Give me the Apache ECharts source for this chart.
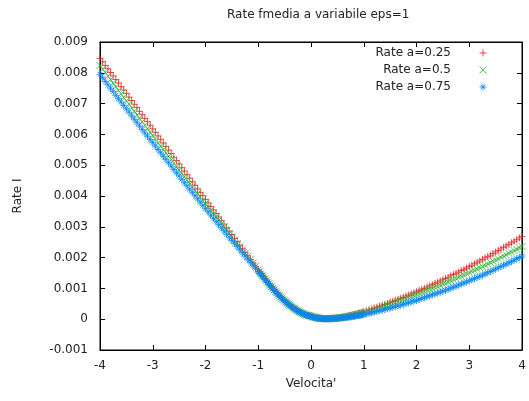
<!DOCTYPE html>
<html><head><meta charset="utf-8">
<script src="https://cdn.jsdelivr.net/npm/echarts@6/dist/echarts.min.js"></script>
<style>html,body{margin:0;padding:0;background:#fff}#c{width:529px;height:401px}</style>
</head><body><div id="c"></div><script>
// x values (Velocita')
const velocita = [
-4,-3.95,-3.9,-3.85,-3.8,-3.75,-3.7,-3.65,-3.6,-3.55,
-3.5,-3.45,-3.4,-3.35,-3.3,-3.25,-3.2,-3.15,-3.1,-3.05,
-3,-2.95,-2.9,-2.85,-2.8,-2.75,-2.7,-2.65,-2.6,-2.55,
-2.5,-2.45,-2.4,-2.35,-2.3,-2.25,-2.2,-2.15,-2.1,-2.05,
-2,-1.95,-1.9,-1.85,-1.8,-1.75,-1.7,-1.65,-1.6,-1.55,
-1.5,-1.45,-1.4,-1.35,-1.3,-1.25,-1.2,-1.15,-1.1,-1.05,
-1,-0.975,-0.95,-0.925,-0.9,-0.875,-0.85,-0.825,-0.8,-0.775,
-0.75,-0.725,-0.7,-0.675,-0.65,-0.625,-0.6,-0.575,-0.55,-0.525,
-0.5,-0.475,-0.45,-0.425,-0.4,-0.375,-0.35,-0.325,-0.3,-0.275,
-0.25,-0.225,-0.2,-0.175,-0.15,-0.125,-0.1,-0.075,-0.05,-0.025,
0,0.025,0.05,0.075,0.1,0.125,0.15,0.175,0.2,0.225,
0.25,0.275,0.3,0.325,0.35,0.375,0.4,0.425,0.45,0.475,
0.5,0.525,0.55,0.575,0.6,0.625,0.65,0.675,0.7,0.725,
0.75,0.775,0.8,0.825,0.85,0.875,0.9,0.925,0.95,0.975,
1,1.05,1.1,1.15,1.2,1.25,1.3,1.35,1.4,1.45,
1.5,1.55,1.6,1.65,1.7,1.75,1.8,1.85,1.9,1.95,
2,2.05,2.1,2.15,2.2,2.25,2.3,2.35,2.4,2.45,
2.5,2.55,2.6,2.65,2.7,2.75,2.8,2.85,2.9,2.95,
3,3.05,3.1,3.15,3.2,3.25,3.3,3.35,3.4,3.45,
3.5,3.55,3.6,3.65,3.7,3.75,3.8,3.85,3.9,3.95,
4];
// Rate a=0.25
const rateA025 = [
0.00847,0.00836,0.00824,0.00813,0.00801,0.00790,0.00778,0.00767,0.00755,0.00744,
0.00733,0.00721,0.00710,0.00698,0.00687,0.00675,0.00664,0.00652,0.00641,0.00630,
0.00618,0.00607,0.00595,0.00584,0.00572,0.00561,0.00549,0.00538,0.00526,0.00515,
0.00504,0.00492,0.00481,0.00469,0.00458,0.00446,0.00435,0.00423,0.00412,0.00401,
0.00389,0.00378,0.00366,0.00355,0.00343,0.00332,0.00320,0.00309,0.00297,0.00286,
0.00275,0.00263,0.00252,0.00240,0.00229,0.00217,0.00206,0.00194,0.00183,0.00172,
0.00160,0.00154,0.00149,0.00143,0.00138,0.00132,0.00127,0.00121,0.00116,0.00111,
0.00106,0.00101,0.00096,0.00091,0.00087,0.00082,0.00077,0.00073,0.00069,0.00064,
0.00060,0.00056,0.00053,0.00049,0.00046,0.00042,0.00039,0.00036,0.00033,0.00030,
0.00028,0.00025,0.00023,0.00020,0.00018,0.00016,0.00015,0.00013,0.00012,0.00011,
0.00010,0.00008,0.00007,0.00006,0.00005,0.00004,0.00004,0.00003,0.00003,0.00002,
0.00002,0.00002,0.00002,0.00002,0.00002,0.00002,0.00003,0.00003,0.00003,0.00003,
0.00004,0.00004,0.00005,0.00006,0.00007,0.00007,0.00008,0.00009,0.00010,0.00011,
0.00012,0.00013,0.00014,0.00015,0.00016,0.00017,0.00019,0.00020,0.00021,0.00022,
0.00024,0.00027,0.00030,0.00033,0.00036,0.00039,0.00042,0.00045,0.00048,0.00051,
0.00055,0.00058,0.00061,0.00065,0.00068,0.00071,0.00075,0.00078,0.00082,0.00086,
0.00089,0.00093,0.00097,0.00100,0.00104,0.00108,0.00112,0.00116,0.00120,0.00124,
0.00128,0.00132,0.00136,0.00141,0.00145,0.00149,0.00153,0.00158,0.00162,0.00166,
0.00171,0.00175,0.00180,0.00185,0.00189,0.00194,0.00199,0.00203,0.00208,0.00213,
0.00218,0.00223,0.00228,0.00233,0.00238,0.00243,0.00248,0.00253,0.00258,0.00264,
0.00269];
// Rate a=0.5
const rateA05 = [
0.00824,0.00812,0.00801,0.00789,0.00778,0.00766,0.00755,0.00743,0.00732,0.00720,
0.00709,0.00698,0.00686,0.00675,0.00663,0.00652,0.00641,0.00629,0.00618,0.00607,
0.00596,0.00585,0.00573,0.00562,0.00551,0.00540,0.00529,0.00518,0.00506,0.00495,
0.00484,0.00473,0.00462,0.00451,0.00440,0.00429,0.00418,0.00408,0.00397,0.00386,
0.00375,0.00364,0.00353,0.00342,0.00332,0.00321,0.00310,0.00299,0.00289,0.00278,
0.00267,0.00257,0.00246,0.00235,0.00225,0.00214,0.00204,0.00193,0.00182,0.00172,
0.00160,0.00154,0.00148,0.00142,0.00137,0.00131,0.00126,0.00120,0.00115,0.00110,
0.00105,0.00100,0.00095,0.00090,0.00086,0.00081,0.00077,0.00072,0.00068,0.00064,
0.00060,0.00056,0.00052,0.00048,0.00045,0.00042,0.00039,0.00036,0.00033,0.00030,
0.00027,0.00024,0.00022,0.00020,0.00018,0.00016,0.00014,0.00013,0.00012,0.00011,
0.00010,0.00008,0.00007,0.00006,0.00005,0.00004,0.00003,0.00002,0.00002,0.00002,
0.00002,0.00002,0.00002,0.00002,0.00002,0.00002,0.00003,0.00003,0.00003,0.00003,
0.00004,0.00004,0.00005,0.00005,0.00006,0.00006,0.00007,0.00008,0.00009,0.00009,
0.00010,0.00011,0.00012,0.00013,0.00014,0.00015,0.00016,0.00017,0.00018,0.00019,
0.00020,0.00023,0.00025,0.00028,0.00031,0.00034,0.00036,0.00039,0.00042,0.00045,
0.00048,0.00051,0.00054,0.00057,0.00060,0.00063,0.00066,0.00070,0.00073,0.00076,
0.00079,0.00083,0.00086,0.00089,0.00093,0.00096,0.00099,0.00103,0.00106,0.00110,
0.00114,0.00117,0.00121,0.00125,0.00128,0.00132,0.00136,0.00140,0.00143,0.00147,
0.00151,0.00155,0.00159,0.00163,0.00167,0.00171,0.00175,0.00179,0.00184,0.00188,
0.00192,0.00196,0.00201,0.00205,0.00209,0.00214,0.00218,0.00223,0.00227,0.00232,
0.00236];
// Rate a=0.75
const rateA075 = [
0.00795,0.00784,0.00772,0.00761,0.00750,0.00739,0.00727,0.00716,0.00705,0.00694,
0.00683,0.00672,0.00660,0.00649,0.00638,0.00627,0.00616,0.00605,0.00594,0.00583,
0.00573,0.00562,0.00551,0.00540,0.00529,0.00518,0.00508,0.00497,0.00486,0.00475,
0.00465,0.00454,0.00443,0.00433,0.00422,0.00412,0.00401,0.00391,0.00380,0.00370,
0.00359,0.00349,0.00338,0.00328,0.00318,0.00307,0.00297,0.00287,0.00276,0.00266,
0.00256,0.00246,0.00236,0.00225,0.00215,0.00205,0.00195,0.00185,0.00175,0.00165,
0.00155,0.00150,0.00145,0.00140,0.00135,0.00129,0.00124,0.00119,0.00114,0.00109,
0.00104,0.00099,0.00094,0.00089,0.00085,0.00080,0.00076,0.00071,0.00067,0.00063,
0.00059,0.00055,0.00052,0.00048,0.00045,0.00041,0.00038,0.00035,0.00032,0.00029,
0.00027,0.00024,0.00022,0.00020,0.00018,0.00016,0.00014,0.00012,0.00011,0.00010,
0.00009,0.00007,0.00006,0.00005,0.00004,0.00003,0.00003,0.00002,0.00002,0.00001,
0.00001,0.00001,0.00001,0.00001,0.00001,0.00001,0.00002,0.00002,0.00002,0.00002,
0.00003,0.00003,0.00004,0.00004,0.00005,0.00005,0.00006,0.00006,0.00007,0.00007,
0.00008,0.00008,0.00009,0.00010,0.00011,0.00011,0.00012,0.00012,0.00013,0.00014,
0.00015,0.00017,0.00019,0.00021,0.00023,0.00025,0.00027,0.00029,0.00032,0.00034,
0.00036,0.00039,0.00041,0.00043,0.00046,0.00048,0.00051,0.00053,0.00056,0.00059,
0.00061,0.00064,0.00067,0.00070,0.00073,0.00076,0.00079,0.00082,0.00085,0.00088,
0.00091,0.00094,0.00097,0.00101,0.00104,0.00107,0.00111,0.00114,0.00118,0.00121,
0.00125,0.00128,0.00132,0.00136,0.00139,0.00143,0.00147,0.00151,0.00155,0.00159,
0.00163,0.00167,0.00171,0.00175,0.00179,0.00183,0.00187,0.00192,0.00196,0.00200,
0.00205];

const seriesNames = ['Rate a=0.25', 'Rate a=0.5', 'Rate a=0.75'];
const xTickLabels = ['-4', '-3', '-2', '-1', '0', '1', '2', '3', '4'];
const yTickLabels = ['-0.001', '0', '0.001', '0.002', '0.003', '0.004', '0.005', '0.006', '0.007', '0.008', '0.009'];

const X_MIN = -4, X_MAX = 4, X_STEP = 1;
const Y_MIN = -0.001, Y_MAX = 0.009, Y_STEP = 0.001;

const FONT = 'DejaVu Sans';
const TEXT = '#222';
const colors = ['#e02020', '#2eb02e', '#0a86f0'];
const symbols = [
  'path://M0,5L10,5M5,0L5,10',
  'path://M0,0L10,10M0,10L10,0',
  'path://M0,5L10,5M5,0L5,10M1.5,1.5L8.5,8.5M1.5,8.5L8.5,1.5'
];
const ys = [rateA025, rateA05, rateA075];

const xFmt = v => xTickLabels[Math.round((v - X_MIN) / X_STEP)] ?? '';
const yFmt = v => yTickLabels[Math.round((v - Y_MIN) / Y_STEP)] ?? '';

const tick = {show: true, inside: true, length: 5, lineStyle: {color: '#000', width: 1}};
const line = {show: true, onZero: false, lineStyle: {color: '#000', width: 1}};

const chart = echarts.init(document.getElementById('c'), null, {renderer: 'canvas'});
chart.setOption({
  animation: false,
  backgroundColor: '#fff',
  title: {
    text: 'Rate fmedia a variabile eps=1',
    left: 227, top: 9, padding: 0,
    textStyle: {fontFamily: FONT, fontSize: 12, fontWeight: 'normal', color: TEXT}
  },
  legend: {
    orient: 'vertical', right: 37, top: 42, align: 'right',
    itemWidth: 54, itemHeight: 7, itemGap: 5,
    textStyle: {fontFamily: FONT, fontSize: 12, color: TEXT},
    itemStyle: {borderWidth: 1},
    data: seriesNames.map((n, i) => ({name: n, icon: symbols[i]}))
  },
  grid: {left: 100, right: 7, top: 42, bottom: 51, show: true, borderColor: '#000', borderWidth: 1, backgroundColor: 'transparent'},
  xAxis: [{
    type: 'value', min: X_MIN, max: X_MAX, interval: X_STEP, position: 'bottom',
    axisLine: line, axisTick: tick, splitLine: {show: false},
    axisLabel: {fontFamily: FONT, fontSize: 12, color: TEXT, margin: 10, formatter: xFmt},
    name: "Velocita'", nameLocation: 'middle', nameGap: 28,
    nameTextStyle: {fontFamily: FONT, fontSize: 12, color: TEXT}
  }, {
    type: 'value', min: X_MIN, max: X_MAX, interval: X_STEP, position: 'top',
    axisLine: line, axisTick: tick, splitLine: {show: false}, axisLabel: {show: false}
  }],
  yAxis: [{
    type: 'value', min: Y_MIN, max: Y_MAX, interval: Y_STEP, position: 'left',
    axisLine: line, axisTick: tick, splitLine: {show: false},
    axisLabel: {fontFamily: FONT, fontSize: 12, color: TEXT, margin: 12, formatter: yFmt},
    name: 'Rate I', nameLocation: 'middle', nameGap: 76,
    nameTextStyle: {fontFamily: FONT, fontSize: 12, color: TEXT}
  }, {
    type: 'value', min: Y_MIN, max: Y_MAX, interval: Y_STEP, position: 'right',
    axisLine: line, axisTick: tick, splitLine: {show: false}, axisLabel: {show: false}
  }],
  series: seriesNames.map((n, i) => ({
    name: n, type: 'scatter', xAxisIndex: 0, yAxisIndex: 0,
    symbol: symbols[i], symbolSize: 7, symbolKeepAspect: true,
    itemStyle: {color: colors[i], borderColor: colors[i], borderWidth: 1},
    emphasis: {disabled: true},
    data: velocita.map((x, j) => [x, ys[i][j]])
  }))
});
</script></body></html>
